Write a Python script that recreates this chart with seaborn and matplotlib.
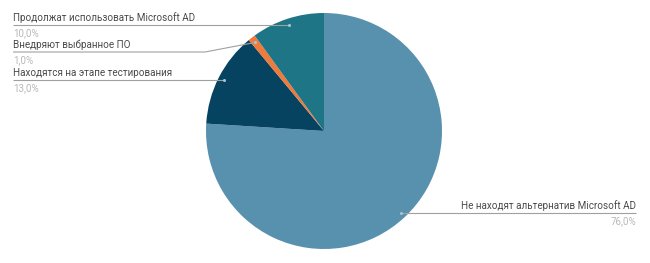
import numpy as np
import matplotlib
matplotlib.use("Agg")
import matplotlib.pyplot as plt
import seaborn as sns

categories = ["Не находят альтернатив Microsoft AD",
              "Находятся на этапе тестирования",
              "Внедряют выбранное ПО",
              "Продолжат использовать Microsoft AD"]
values = [76.0, 13.0, 1.0, 10.0]
pct_labels = ["76,0%", "13,0%", "1,0%", "10,0%"]
colors = ["#5891ae", "#064361", "#f07a3a", "#1d7585"]

sns.set_theme(style="white")
plt.rcParams['font.family'] = ['Roboto', 'DejaVu Sans']

W, H = 650, 263
fig = plt.figure(figsize=(6.5, 2.63), dpi=100)
ax = fig.add_axes([0, 0, 1, 1])

cx, cy, r = 324, H - 131, 118
wedges, _ = ax.pie(values, colors=colors, startangle=90, counterclock=False,
                   center=(cx, cy), radius=r, frame=True,
                   wedgeprops=dict(linewidth=0))
ax.set_xlim(0, W)
ax.set_ylim(0, H)
ax.set_aspect('equal')
ax.axis('off')

line_col = "#a0a0a0"
txt_col = "#4a4a4a"
pct_col = "#b8b8b8"
fs = 7.1

# label layout: (line y in px from top, side, end x)
layout = {
    0: dict(ty=213, side="right", x_end=636),
    1: dict(ty=80, side="left", x_end=13),
    2: dict(ty=52, side="left", x_end=13, elbow=205),
    3: dict(ty=25, side="left", x_end=13),
}

for i, w in enumerate(wedges):
    mid = np.deg2rad((w.theta1 + w.theta2) / 2)
    rr = 0.95 * r
    px, py = cx + rr * np.cos(mid), cy + rr * np.sin(mid)
    L = layout[i]
    ly = H - L["ty"]
    if "elbow" in L:
        xs = [px, L["elbow"], L["x_end"]]
        ys = [py, ly, ly]
    else:
        xs = [px, L["x_end"]]
        ys = [ly, ly]
        py = ly
    ax.plot(xs, ys, color=line_col, lw=0.8, solid_capstyle='butt')
    ax.plot([px], [py], 'o', ms=2.2, color="#a8c4d4", mec='none')
    ha = 'left' if L["side"] == "left" else 'right'
    ax.text(L["x_end"], ly + 2, categories[i], ha=ha, va='bottom',
            fontsize=fs, color=txt_col)
    ax.text(L["x_end"], ly - 3, pct_labels[i], ha=ha, va='top',
            fontsize=fs, color=pct_col)

fig.savefig("out.png", dpi=100, facecolor="white")
